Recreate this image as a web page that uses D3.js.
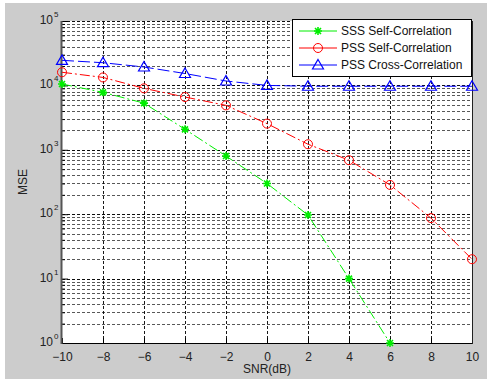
<!DOCTYPE html>
<html>
<head>
<meta charset="utf-8">
<script src="https://cdn.jsdelivr.net/npm/d3@7"></script>
<style>
  body { margin: 0; background: #fff; }
  svg { display: block; font-family: "Liberation Sans", Arial, sans-serif; }
</style>
</head>
<body>
<svg id="chart" width="487" height="381"></svg>
<script>
// values
var snr = [-10, -8, -6, -4, -2, 0, 2, 4, 6, 8, 10];
var sssSelf  = [10500, 7800, 5300, 2080, 800, 300, 97, 10, 1];
var pssSelf  = [16000, 13300, 9000, 6600, 4900, 2550, 1220, 690, 285, 87, 20];
var pssCross = [24500, 22500, 19300, 15300, 11700, 10000, 9700, 9700, 9700, 9700, 9700];
var xTicks = [-10, -8, -6, -4, -2, 0, 2, 4, 6, 8, 10];
var yDecades = [0, 1, 2, 3, 4, 5];
var seriesNames = ['SSS Self-Correlation', 'PSS Self-Correlation', 'PSS Cross-Correlation'];

var svg = d3.select('#chart');

// figure background (grey with thin white border like the screenshot)
svg.append('rect').attr('x', 5).attr('y', 3).attr('width', 482).attr('height', 376).attr('fill', '#cccccc');

var padL = 62, padR = 472, padT = 21, padB = 343;

var x = d3.scaleLinear().domain([-10, 10]).range([padL, padR]);
var y = d3.scaleLog().domain([1, 1e5]).range([padB, padT]);

svg.append('rect').attr('x', padL).attr('y', padT).attr('width', padR - padL).attr('height', padB - padT).attr('fill', '#fff');

// grid ---------------------------------------------------------------
var grid = svg.append('g');
var minorVals = [];
yDecades.slice(0, -1).forEach(function (d) {
  for (var k = 1; k <= 9; k++) minorVals.push(k * Math.pow(10, d));
});
minorVals.push(1e5);

function isDecade(d) { return Math.abs(Math.log10(d) - Math.round(Math.log10(d))) < 1e-9; }

grid.selectAll('line.hy').data(minorVals.slice(1)).enter().append('line')
  .attr('x1', padL).attr('x2', padR)
  .attr('y1', function (d) { return Math.round(y(d)) + 0.5; })
  .attr('y2', function (d) { return Math.round(y(d)) + 0.5; })
  .attr('stroke', '#000').attr('stroke-width', 1).attr('stroke-dasharray', '3,2')
  .attr('opacity', function (d) { return isDecade(d) ? 0.95 : 0.65; });

grid.selectAll('line.vx').data(xTicks.slice(1, -1)).enter().append('line')
  .attr('x1', function (d) { return Math.round(x(d)) + 0.5; })
  .attr('x2', function (d) { return Math.round(x(d)) + 0.5; })
  .attr('y1', padT).attr('y2', padB)
  .attr('stroke', '#000').attr('stroke-width', 1).attr('stroke-dasharray', '3,2').attr('opacity', 0.9);

// axes ---------------------------------------------------------------
var xAxis = d3.axisBottom(x).tickValues(xTicks).tickSize(-5).tickPadding(9);
var gx = svg.append('g').attr('transform', 'translate(0,' + padB + ')').call(xAxis);
gx.select('.domain').remove();
gx.selectAll('.tick line').attr('stroke', '#000');
gx.selectAll('.tick text').attr('font-size', 12).attr('fill', '#222')
  .attr('font-family', '"Liberation Sans", Arial, sans-serif');

var yAxis = d3.axisLeft(y).tickValues(minorVals).tickSize(-4).tickFormat('');
var gy = svg.append('g').attr('transform', 'translate(' + padL + ',0)').call(yAxis);
gy.select('.domain').remove();
gy.selectAll('.tick line').attr('stroke', '#000')
  .attr('x2', function (d) { return isDecade(d) ? 6 : 3; });

// frame
svg.append('line').attr('x1', padL).attr('x2', padR).attr('y1', padB + 0.5).attr('y2', padB + 0.5).attr('stroke', '#000');
svg.append('line').attr('x1', padR + 0.5).attr('x2', padR + 0.5).attr('y1', padT).attr('y2', padB + 1).attr('stroke', '#222');
svg.append('line').attr('x1', padL - 0.5).attr('x2', padL - 0.5).attr('y1', padT).attr('y2', padB + 1).attr('stroke', '#555').attr('stroke-width', 2);

// y tick labels 10^n
svg.append('g').selectAll('text').data(yDecades).enter().append('text')
  .attr('x', 53).attr('y', function (d) { return y(Math.pow(10, d)) + 3; })
  .attr('text-anchor', 'end').attr('font-size', 12).attr('fill', '#222').text('10');
svg.append('g').selectAll('text').data(yDecades).enter().append('text')
  .attr('x', 54).attr('y', function (d) { return y(Math.pow(10, d)) - 4; })
  .attr('font-size', 8).attr('fill', '#222').text(function (d) { return d; });

// axis titles
svg.append('text').attr('x', (padL + padR) / 2).attr('y', 373).attr('text-anchor', 'middle')
  .attr('font-size', 12).attr('fill', '#222').text('SNR(dB)');
svg.append('text').attr('transform', 'translate(27,' + (padT + padB) / 2 + ') rotate(-90)')
  .attr('text-anchor', 'middle').attr('font-size', 12).attr('fill', '#222').text('MSE');

// series -------------------------------------------------------------
var series = [
  { name: seriesNames[0], values: sssSelf, color: '#00ee00', dash: '10,3,2,3', marker: 'star' },
  { name: seriesNames[1], values: pssSelf, color: '#ff0000', dash: '10,3,2,3', marker: 'circle' },
  { name: seriesNames[2], values: pssCross, color: '#0000ff', dash: '12,4', marker: 'tri' }
];

var line = d3.line().x(function (d, i) { return x(snr[i]); }).y(function (d) { return y(d); });

function drawMarker(g, kind, color) {
  if (kind === 'circle') {
    g.append('circle').attr('r', 4.5).attr('fill', 'none').attr('stroke', color).attr('stroke-width', 1);
  } else if (kind === 'tri') {
    g.append('path').attr('d', 'M0,-5.5L5.5,4L-5.5,4Z').attr('fill', 'none').attr('stroke', color).attr('stroke-width', 1.2);
  } else {
    g.append('path').attr('d', 'M-4,0H4M0,-4V4M-3,-3L3,3M-3,3L3,-3').attr('stroke', color).attr('stroke-width', 1.6);
  }
}

series.forEach(function (s) {
  svg.append('path').datum(s.values).attr('d', line).attr('fill', 'none')
    .attr('stroke', s.color).attr('stroke-width', 1).attr('stroke-dasharray', s.dash);
  s.values.forEach(function (v, i) {
    var g = svg.append('g').attr('transform', 'translate(' + x(snr[i]) + ',' + y(v) + ')');
    drawMarker(g, s.marker, s.color);
  });
});

// legend -------------------------------------------------------------
var lg = svg.append('g');
lg.append('rect').attr('x', 292.5).attr('y', 19.5).attr('width', 179).attr('height', 57)
  .attr('fill', '#fff').attr('stroke', '#000');
series.forEach(function (s, i) {
  var ly = 31 + i * 17;
  lg.append('line').attr('x1', 299).attr('x2', 337).attr('y1', ly).attr('y2', ly)
    .attr('stroke', s.color).attr('stroke-width', 1);
  drawMarker(lg.append('g').attr('transform', 'translate(318,' + ly + ')'), s.marker, s.color);
  lg.append('text').attr('x', 341).attr('y', ly + 4).attr('font-size', 12).attr('fill', '#111').text(s.name);
});
</script>
</body>
</html>
